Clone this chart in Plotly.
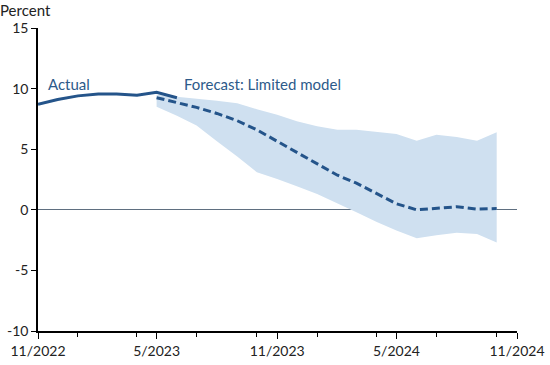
import plotly.graph_objects as go

actual_dates = ["2022-11-01", "2022-12-01", "2023-01-01", "2023-02-01", "2023-03-01",
                "2023-04-01", "2023-05-01", "2023-06-01"]
actual_values = [8.7, 9.1, 9.4, 9.55, 9.55, 9.45, 9.7, 9.25]

forecast_dates = ["2023-05-01", "2023-06-01", "2023-07-01", "2023-08-01", "2023-09-01",
                  "2023-10-01", "2023-11-01", "2023-12-01", "2024-01-01", "2024-02-01",
                  "2024-03-01", "2024-04-01", "2024-05-01", "2024-06-01", "2024-07-01",
                  "2024-08-01", "2024-09-01", "2024-10-01"]
forecast_values = [9.25, 8.85, 8.45, 7.95, 7.35, 6.6, 5.65, 4.75, 3.85, 2.85,
                   2.2, 1.35, 0.5, 0.0, 0.15, 0.25, 0.05, 0.1]
band_upper = [9.5, 9.35, 9.2, 9.0, 8.8, 8.3, 7.85, 7.3, 6.9, 6.6,
              6.6, 6.45, 6.25, 5.7, 6.2, 6.0, 5.7, 6.4]
band_lower = [8.5, 7.75, 6.95, 5.65, 4.4, 3.1, 2.55, 1.95, 1.3, 0.5,
              -0.2, -1.0, -1.7, -2.35, -2.1, -1.9, -2.0, -2.7]

y_ticks = [-10, -5, 0, 5, 10, 15]
y_tick_labels = ["-10", "-5", "0", "5", "10", "15"]

LINE = "#24548a"
BAND = "#cfe0f0"
TEXT = "#2d5a8a"
FONT = "Lato"

fig = go.Figure()
fig.add_trace(go.Scatter(
    x=forecast_dates + forecast_dates[::-1],
    y=band_upper + band_lower[::-1],
    fill="toself", fillcolor=BAND, line=dict(width=0), mode="lines",
    hoverinfo="skip", showlegend=False))
fig.add_trace(go.Scatter(
    x=actual_dates, y=actual_values, mode="lines",
    line=dict(color=LINE, width=3), showlegend=False))
fig.add_trace(go.Scatter(
    x=forecast_dates, y=forecast_values, mode="lines",
    line=dict(color=LINE, width=3, dash="8px,4px"), showlegend=False))

fig.update_layout(
    width=550, height=365,
    margin=dict(l=38, r=33, t=28, b=34, autoexpand=False),
    paper_bgcolor="white", plot_bgcolor="white",
    font=dict(family=FONT, size=14, color="#222222"),
    showlegend=False,
    title=dict(text="Percent", xref="container", yref="container",
               x=0.0, y=1 - 11 / 365, xanchor="left", yanchor="middle",
               font=dict(size=15, color="#222222")),
    xaxis=dict(
        type="date", range=["2022-11-01", "2024-11-01"],
        tick0="2022-11-01", dtick="M6", tickformat="%-m/%Y",
        ticks="outside", ticklen=6, tickcolor="black",
        showline=True, linecolor="black", linewidth=1.5,
        showgrid=False, zeroline=False, automargin=False,
        tickfont=dict(size=14, color="#222222"),
        minor=dict(dtick="M3", ticks="outside", ticklen=4, tickcolor="black", showgrid=False),
    ),
    yaxis=dict(
        range=[-10, 15], tickvals=y_ticks, ticktext=y_tick_labels,
        ticks="outside", ticklen=5, tickcolor="black",
        showline=True, linecolor="black", linewidth=1.5,
        showgrid=False, automargin=False,
        zeroline=True, zerolinecolor="#5f6f80", zerolinewidth=1,
        tickfont=dict(size=14, color="#222222"),
    ),
    annotations=[
        dict(text="Actual", xref="x", yref="y", x="2022-11-13", y=10.4,
             xanchor="left", yanchor="middle", showarrow=False,
             font=dict(size=15, color=TEXT)),
        dict(text="Forecast: Limited model", xref="x", yref="y", x="2023-06-08", y=10.4,
             xanchor="left", yanchor="middle", showarrow=False,
             font=dict(size=15, color=TEXT)),
    ],
)

fig.write_html("out.html", config={"displayModeBar": False},
               post_script="document.body.style.margin='0';")
